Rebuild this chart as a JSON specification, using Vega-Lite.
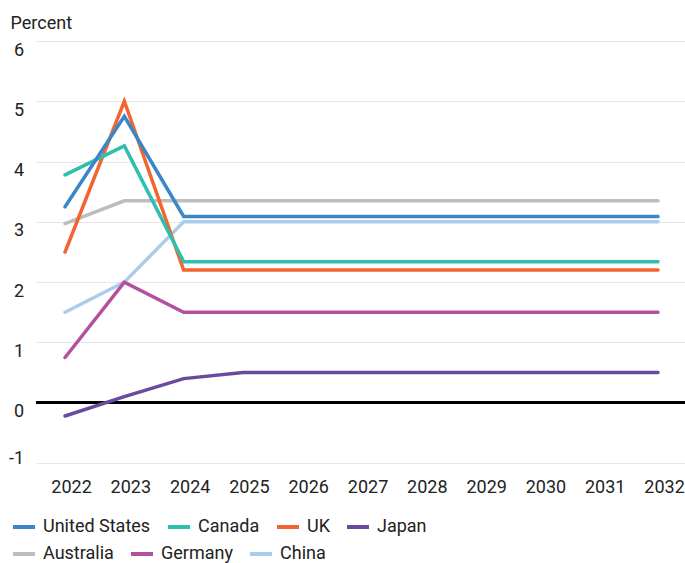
{
  "$schema": "https://vega.github.io/schema/vega-lite/v6.json",
  "width": 649,
  "height": 422,
  "autosize": {"type": "none"},
  "padding": {"left": 36, "top": 41, "right": 0, "bottom": 100},
  "background": "white",
  "config": {
    "view": {"stroke": null},
    "font": "Roboto, sans-serif",
    "legend": {
      "orient": "none",
      "direction": "horizontal",
      "symbolType": "stroke",
      "symbolSize": 484,
      "symbolStrokeWidth": 4,
      "labelFontSize": 18,
      "labelColor": "#222222",
      "labelOffset": 6,
      "columnPadding": 9,
      "padding": 0,
      "labelLimit": 300
    }
  },
  "data": {
    "values": [
      {"country": "China", "year": 2022, "value": 1.5},
      {"country": "China", "year": 2023, "value": 2.0},
      {"country": "China", "year": 2024, "value": 3.0},
      {"country": "China", "year": 2025, "value": 3.0},
      {"country": "China", "year": 2026, "value": 3.0},
      {"country": "China", "year": 2027, "value": 3.0},
      {"country": "China", "year": 2028, "value": 3.0},
      {"country": "China", "year": 2029, "value": 3.0},
      {"country": "China", "year": 2030, "value": 3.0},
      {"country": "China", "year": 2031, "value": 3.0},
      {"country": "China", "year": 2032, "value": 3.0},
      {"country": "Germany", "year": 2022, "value": 0.75},
      {"country": "Germany", "year": 2023, "value": 2.0},
      {"country": "Germany", "year": 2024, "value": 1.5},
      {"country": "Germany", "year": 2025, "value": 1.5},
      {"country": "Germany", "year": 2026, "value": 1.5},
      {"country": "Germany", "year": 2027, "value": 1.5},
      {"country": "Germany", "year": 2028, "value": 1.5},
      {"country": "Germany", "year": 2029, "value": 1.5},
      {"country": "Germany", "year": 2030, "value": 1.5},
      {"country": "Germany", "year": 2031, "value": 1.5},
      {"country": "Germany", "year": 2032, "value": 1.5},
      {"country": "Australia", "year": 2022, "value": 2.97},
      {"country": "Australia", "year": 2023, "value": 3.35},
      {"country": "Australia", "year": 2024, "value": 3.35},
      {"country": "Australia", "year": 2025, "value": 3.35},
      {"country": "Australia", "year": 2026, "value": 3.35},
      {"country": "Australia", "year": 2027, "value": 3.35},
      {"country": "Australia", "year": 2028, "value": 3.35},
      {"country": "Australia", "year": 2029, "value": 3.35},
      {"country": "Australia", "year": 2030, "value": 3.35},
      {"country": "Australia", "year": 2031, "value": 3.35},
      {"country": "Australia", "year": 2032, "value": 3.35},
      {"country": "Japan", "year": 2022, "value": -0.22},
      {"country": "Japan", "year": 2023, "value": 0.1},
      {"country": "Japan", "year": 2024, "value": 0.4},
      {"country": "Japan", "year": 2025, "value": 0.5},
      {"country": "Japan", "year": 2026, "value": 0.5},
      {"country": "Japan", "year": 2027, "value": 0.5},
      {"country": "Japan", "year": 2028, "value": 0.5},
      {"country": "Japan", "year": 2029, "value": 0.5},
      {"country": "Japan", "year": 2030, "value": 0.5},
      {"country": "Japan", "year": 2031, "value": 0.5},
      {"country": "Japan", "year": 2032, "value": 0.5},
      {"country": "UK", "year": 2022, "value": 2.5},
      {"country": "UK", "year": 2023, "value": 5.0},
      {"country": "UK", "year": 2024, "value": 2.2},
      {"country": "UK", "year": 2025, "value": 2.2},
      {"country": "UK", "year": 2026, "value": 2.2},
      {"country": "UK", "year": 2027, "value": 2.2},
      {"country": "UK", "year": 2028, "value": 2.2},
      {"country": "UK", "year": 2029, "value": 2.2},
      {"country": "UK", "year": 2030, "value": 2.2},
      {"country": "UK", "year": 2031, "value": 2.2},
      {"country": "UK", "year": 2032, "value": 2.2},
      {"country": "Canada", "year": 2022, "value": 3.78},
      {"country": "Canada", "year": 2023, "value": 4.26},
      {"country": "Canada", "year": 2024, "value": 2.34},
      {"country": "Canada", "year": 2025, "value": 2.34},
      {"country": "Canada", "year": 2026, "value": 2.34},
      {"country": "Canada", "year": 2027, "value": 2.34},
      {"country": "Canada", "year": 2028, "value": 2.34},
      {"country": "Canada", "year": 2029, "value": 2.34},
      {"country": "Canada", "year": 2030, "value": 2.34},
      {"country": "Canada", "year": 2031, "value": 2.34},
      {"country": "Canada", "year": 2032, "value": 2.34},
      {"country": "United States", "year": 2022, "value": 3.25},
      {"country": "United States", "year": 2023, "value": 4.75},
      {"country": "United States", "year": 2024, "value": 3.09},
      {"country": "United States", "year": 2025, "value": 3.09},
      {"country": "United States", "year": 2026, "value": 3.09},
      {"country": "United States", "year": 2027, "value": 3.09},
      {"country": "United States", "year": 2028, "value": 3.09},
      {"country": "United States", "year": 2029, "value": 3.09},
      {"country": "United States", "year": 2030, "value": 3.09},
      {"country": "United States", "year": 2031, "value": 3.09},
      {"country": "United States", "year": 2032, "value": 3.09}
    ]
  },
  "layer": [
    {
      "mark": {"type": "rule", "color": "#000000", "strokeWidth": 2},
      "encoding": {
        "y": {"datum": 0, "type": "quantitative", "scale": {"domain": [-1, 6], "nice": false}}
      }
    },
    {
      "transform": [{"filter": {"field": "country", "oneOf": ["Australia", "Germany", "China"]}}],
      "mark": {"type": "line", "strokeWidth": 3.5, "strokeJoin": "miter", "strokeCap": "round"},
      "encoding": {
        "x": {
          "field": "year", "type": "quantitative",
          "scale": {"domain": [2021.51, 2032.455], "nice": false, "zero": false},
          "axis": {"title": null, "values": [2022, 2023, 2024, 2025, 2026, 2027, 2028, 2029, 2030, 2031, 2032], "format": "d", "grid": false, "domain": false, "ticks": false, "tickSize": 0, "labelPadding": 15, "labelBaseline": "top", "labelFontSize": 18, "labelColor": "#222222", "labelFlush": false, "labelOffset": 6}
        },
        "y": {
          "field": "value", "type": "quantitative",
          "scale": {"domain": [-1, 6], "nice": false},
          "axis": {"title": "Percent", "titleAngle": 0, "titleAlign": "left", "titleBaseline": "alphabetic", "titleX": -26, "titleY": -13, "titleFontSize": 18, "titleFontWeight": "normal", "titleColor": "#222222", "values": [-1, 0, 1, 2, 3, 4, 5, 6], "labelExpr": "datum.value + ''", "grid": true, "gridColor": "#e6e6e6", "gridWidth": 1.2, "domain": false, "ticks": false, "tickSize": 0, "labelPadding": 12.5, "labelFontSize": 18, "labelColor": "#222222", "labelFlush": false, "labelBaseline": {"condition": {"test": "datum.value == -1", "value": "alphabetic"}, "value": "top"}}
        },
        "color": {
          "field": "country", "type": "nominal",
          "scale": {"domain": ["Australia", "Germany", "China"], "range": ["#BDBDBD", "#B5509F", "#AACDEC"]},
          "legend": {"title": null, "legendX": -25, "legendY": 500}
        }
      }
    },
    {
      "transform": [{"filter": {"field": "country", "oneOf": ["United States", "Canada", "UK", "Japan"]}}],
      "mark": {"type": "line", "strokeWidth": 3.5, "strokeJoin": "miter", "strokeCap": "round"},
      "encoding": {
        "x": {
          "field": "year", "type": "quantitative",
          "scale": {"domain": [2021.51, 2032.455], "nice": false, "zero": false},
          "axis": {"title": null, "values": [2022, 2023, 2024, 2025, 2026, 2027, 2028, 2029, 2030, 2031, 2032], "format": "d", "grid": false, "domain": false, "ticks": false, "tickSize": 0, "labelPadding": 15, "labelBaseline": "top", "labelFontSize": 18, "labelColor": "#222222", "labelFlush": false, "labelOffset": 6}
        },
        "y": {
          "field": "value", "type": "quantitative",
          "scale": {"domain": [-1, 6], "nice": false},
          "axis": {"title": "Percent", "titleAngle": 0, "titleAlign": "left", "titleBaseline": "alphabetic", "titleX": -26, "titleY": -13, "titleFontSize": 18, "titleFontWeight": "normal", "titleColor": "#222222", "values": [-1, 0, 1, 2, 3, 4, 5, 6], "labelExpr": "datum.value + ''", "grid": true, "gridColor": "#e6e6e6", "gridWidth": 1.2, "domain": false, "ticks": false, "tickSize": 0, "labelPadding": 12.5, "labelFontSize": 18, "labelColor": "#222222", "labelFlush": false, "labelBaseline": {"condition": {"test": "datum.value == -1", "value": "alphabetic"}, "value": "top"}}
        },
        "color": {
          "field": "country", "type": "nominal",
          "scale": {"domain": ["United States", "Canada", "UK", "Japan"], "range": ["#3A87C8", "#2EBFAD", "#F26430", "#6B4A9E"]},
          "legend": {"title": null, "legendX": -25, "legendY": 473}
        }
      }
    }
  ],
  "resolve": {"scale": {"color": "independent"}}
}
